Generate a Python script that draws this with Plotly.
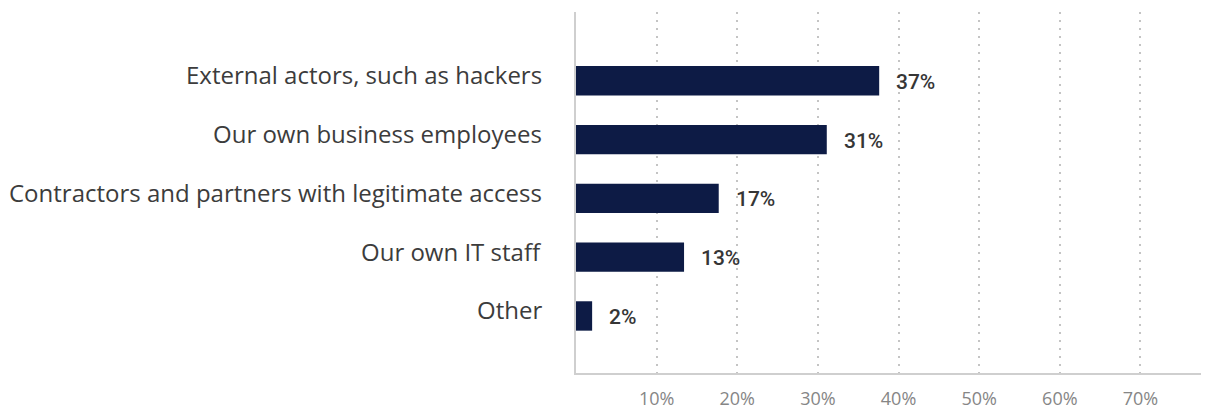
import plotly.graph_objects as go

categories = [
    "External actors, such as hackers",
    "Our own business employees",
    "Contractors and partners with legitimate access",
    "Our own IT staff",
    "Other",
]
values = [37.6, 31.1, 17.7, 13.4, 2.0]
value_labels = ["37%", "31%", "17%", "13%", "2%"]
tick_vals = [10, 20, 30, 40, 50, 60, 70]
tick_text = ["10%", "20%", "30%", "40%", "50%", "60%", "70%"]

BAR = "#0d1b45"

fig = go.Figure()
fig.add_trace(go.Bar(
    x=values, y=categories, orientation="h",
    marker=dict(color=BAR, line=dict(width=0)),
    width=0.5, hoverinfo="skip",
))

annotations = []
for c in categories:
    annotations.append(dict(
        x=0, xref="paper", y=c, yref="y", text=c, showarrow=False,
        xanchor="right", yanchor="middle", xshift=-32, yshift=6,
        font=dict(family="Open Sans", size=24, color="#3c3c3c"),
    ))
for c, v, t in zip(categories, values, value_labels):
    annotations.append(dict(
        x=v, xref="x", y=c, yref="y", text=t, showarrow=False,
        xanchor="left", yanchor="middle", xshift=15, yshift=-1,
        font=dict(family="Roboto", size=21, color="#363636", weight=500),
    ))

fig.update_layout(
    width=1201, height=404,
    margin=dict(l=568, r=0, t=4, b=39),
    paper_bgcolor="white", plot_bgcolor="white",
    showlegend=False,
    annotations=annotations,
    xaxis=dict(
        range=[0, 78.5], tickvals=tick_vals, ticktext=tick_text,
        showgrid=True, gridcolor="#c4c4c4", gridwidth=2, griddash="2px,6px",
        zeroline=False, showline=True, linecolor="#cfcfcf", linewidth=2,
        ticks="", ticklabelstandoff=8,
        tickfont=dict(family="Open Sans", size=18, color="#868686"),
        fixedrange=True,
    ),
    yaxis=dict(
        categoryorder="array", categoryarray=categories,
        range=[4.97, -1.17], showticklabels=False, showgrid=False,
        zeroline=False, showline=True, linecolor="#cfcfcf", linewidth=2,
        ticks="", fixedrange=True,
    ),
)

fig.write_html("out.html")
